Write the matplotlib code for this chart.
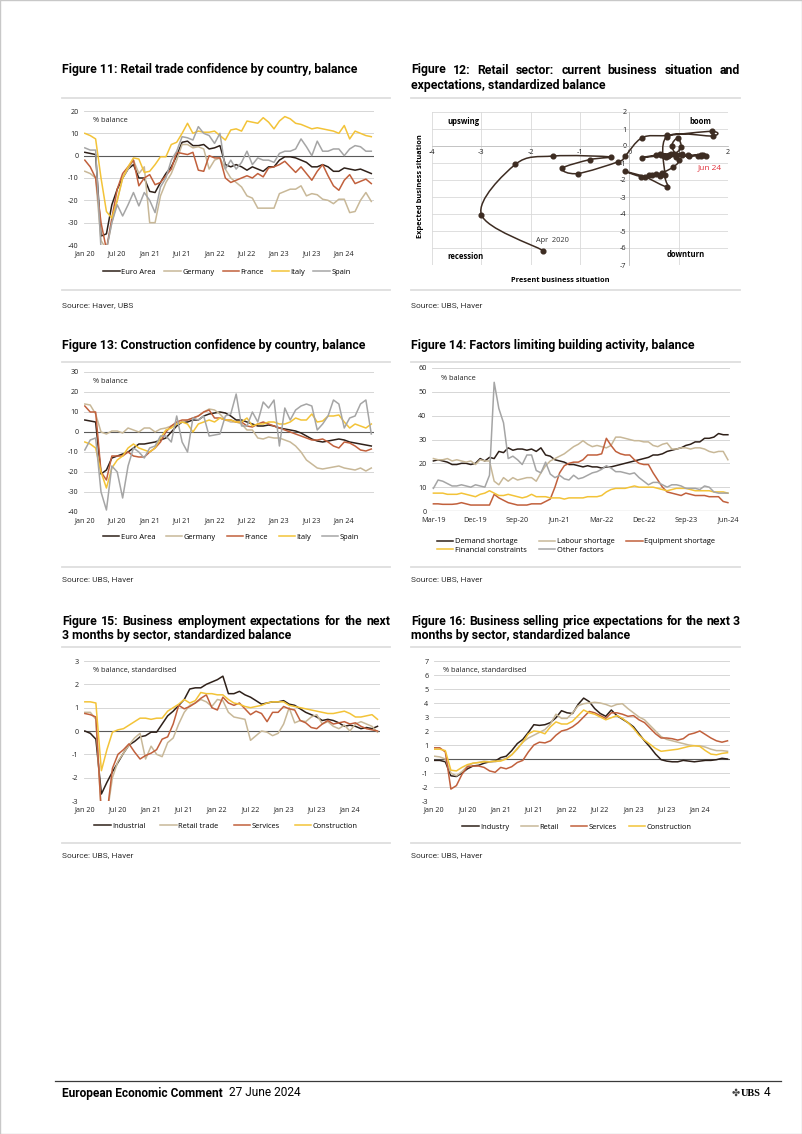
import numpy as np
import matplotlib
matplotlib.use('Agg')
import matplotlib.pyplot as plt
from matplotlib.path import Path
from matplotlib.patches import PathPatch, Rectangle
from matplotlib.lines import Line2D

# ---------------- data ----------------
months_20_24 = ['Jan 20', 'Jul 20', 'Jan 21', 'Jul 21', 'Jan 22', 'Jul 22', 'Jan 23', 'Jul 23', 'Jan 24']
months_19_24 = ['Mar-19', 'Dec-19', 'Sep-20', 'Jun-21', 'Mar-22', 'Dec-22', 'Sep-23', 'Jun-24']

# Figure 11: retail confidence
ea11 = [1.5, 1, 0.5, -36, -35, -22, -15, -10, -6, -4, -10, -10, -16, -16.5, -12, -8, -5, 0, 6, 6.5, 4.5, 4.5, 5, 3, 3.5,
        4.5, -4, -5, -4, -5, -6.5, -5, -6, -7, -5, -5, -2, -0.5, -0.5, -1, -2, -3, -5, -5, -4, -5, -7, -7, -5.5, -6,
        -6.5, -6, -7, -8]
de11 = [-7, -8, -10, -38, -42, -30, -20, -10, -6, -2, -8, -5, -30, -30, -18, -12, -8, -2, 5, 5, 3.5, 4, 3, -6, -2, -1,
        -6, -10, -12, -14, -18, -19, -23.5, -23.5, -23.5, -23.5, -17, -16, -15, -15, -13.5, -18, -17, -17.5, -19.5, -20,
        -21.5, -19.5, -19.5, -25.5, -25, -20, -16.5, -20.5]
fr11 = [-2, -5, -10, -30, -42, -28, -15, -8, -5, -2, -13.5, -10, -8.5, -13, -12, -9, -6, 1.5, 1, 0.5, 1.5, -6.5, -7, 0,
        -1, -1, -10, -12, -11, -10, -9, -10, -8, -9.5, -5.5, -5, -4, -2.5, -5, -7.5, -5, -8, -11, -7, -4, -9, -13.5,
        -15.5, -11, -8.5, -12.5, -11.5, -10.5, -12.5]
it11 = [10, 9, 7.5, -10, -25, -28, -20, -10, -5, -1, -1.5, -7.5, -7, -4, -0.5, -0.5, 5, 6, 10, 14.5, 10, 11, 10.5, 10.5,
        11, 9, 7, 11.5, 12, 11, 15.5, 15, 14.5, 17, 15, 12, 15.5, 17.5, 16.5, 14.5, 14, 13, 12, 12.5, 12, 11.5, 11, 10,
        13.5, 7.5, 11, 10, 9, 8.5]
es11 = [3.5, 2.5, 2.5, -42, -42, -30, -22, -27, -22, -16.5, -22.5, -16.5, -20, -25.5, -14, -10, -2, 2, 8.5, 8, 7, 13,
        10, 9, 5.5, 10, -6, -2, -6, -3, 2, -4, -1, -2, -2, -3, 1, 2, 2, 3, 7.5, 4, 0, 6.5, 2, 2, 3, 3, 0, 3, 4.5, 4, 2, 2]

# Figure 12: retail business cycle clock (Apr 2020 .. Jun 2024)
pres12 = [-1.75, -3.00, -2.31, -1.54, -0.38, -0.80, -1.36, -1.05, -0.22, -0.09, 0.26, 0.76, 1.67, 1.69, 0.76, 0.72,
          0.76, 0.32, -0.09, 0.24, 0.45, 0.55, 0.62, 0.40, 0.66, 0.89, 1.00, 0.86, 0.98, 1.05, 0.90, 0.62, 0.70, 0.80,
          0.26, 0.55, 0.75, 0.85, 1.06, 1.06, 0.65, 0.78, 1.19, 0.95, 1.46, 1.40, 1.56, 0.95, 1.20, 1.50, 1.46]
exp12 = [-6.15, -4.03, -1.08, -0.59, -0.64, -0.80, -1.31, -1.62, -0.92, -0.61, 0.49, 0.62, 0.86, 0.59, 0.55, -1.70,
         -2.39, -1.82, -1.49, -1.80, -1.72, -1.62, -1.74, -1.70, -1.58, -1.23, -0.84, -0.02, 0.47, -0.08, -0.45, -0.45,
         -0.60, -0.52, -0.68, -0.55, -0.62, -0.48, -0.45, -0.55, -0.50, -0.58, -0.55, -0.62, -0.52, -0.60, -0.60,
         -0.55, -0.58, -0.50, -0.58]

# Figure 13: construction confidence
ea13 = [6, 5.5, 5, -21, -19, -13, -12, -11, -10, -8, -6, -6, -5.5, -5, -4, -3, 0, 3, 5, 5, 6, 6, 8, 9, 9.5, 10, 9.5, 8,
        6, 6, 5, 4, 3, 3, 3.5, 3, 2, 1.5, 1, 0.5, -0.5, -2, -3.5, -4.5, -5, -4.5, -4, -3.5, -4, -5, -5.5, -6, -6.5, -7]
de13 = [14, 13.5, 9, 0, -1, 0.5, 0.5, -0.5, 2, 1, 0, 2, 2, 0, 1.5, 2, 3, 4, 5, 6, 7, 8, 10, 11.5, 11, 9, 6, 5, 5, 4, 1,
        1, -3, -3.5, -2.5, -3, -3, -4, -5, -7, -10, -14, -16, -18, -18.5, -18, -17.5, -17, -18, -18.5, -19, -18, -19.5,
        -18]
fr13 = [13, 10, 10, -20, -24, -12, -12, -12, -10, -12, -12.5, -12.5, -10, -8, -5, 0, 3, 5, 6, 6, 7, 8, 10, 11, 7, 7, 6,
        6, 5, 5, 3, 2.5, 4, 5, 4, 3, 2, 1, 0, -1, -2, -3, -4, -4, -3.5, -5, -7, -8, -5, -5.5, -7, -9, -9.5, -8.5]
it13 = [-5, -6, -8, -20, -28, -18, -14, -12, -8, -6, -8, -9, -10, -8, -3, 1, 2, 4, 5, 4, 0, 4, 5, 6, 5, 7, 6, 6, 5, 5,
        7, 3, 4, 4, 5, 5, 4, 4, 5, 7, 6, 6, 9, 5, 5.5, 8, 8, 8.5, 5, 2, 4, 3, 2, 4]
es13 = [-9, -4, -3, -30, -39, -17, -20, -33, -17, -8, -10, -13, -8, -7, -2, -2, -5, 8, -5, -10, 7, 6, 8, -2, -1.5, -1,
        8, 9, 19, 3, 3, 10, 5, 15, 12, 16, -7, 12, 6, 11, 13, 14, 13, 1, 4, 8, 16, 14, 2, 7, 8, 14, 16, -1]

# Figure 14: factors limiting building activity (Mar 2019 .. Jun 2024)
dem14 = [21, 21.5, 21, 20.5, 19.5, 19.5, 20, 20, 19.5, 20, 22, 21, 22.5, 22, 25, 24.5, 26.5, 25.5, 26, 26, 25.5, 26, 25,
         26.5, 23.5, 23, 21.5, 21, 20.5, 19.5, 19.5, 19, 18.5, 19, 18.5, 18.5, 18, 18.5, 18.5, 19, 19.5, 20, 20.5, 21,
         21.5, 22, 22.5, 23.5, 23.5, 24, 25, 25.5, 26, 26.5, 27.5, 28, 29, 29, 30.5, 30.5, 31, 32.5, 32, 32]
lab14 = [22, 21.5, 21.5, 22, 21, 21.5, 21, 20.5, 21, 19.5, 21.5, 21, 21, 12.5, 11, 14, 12.5, 14, 13, 13.5, 14, 14, 12.5,
         16, 19, 21, 22, 23, 24, 25.5, 27, 28, 29.5, 28, 27, 27.5, 27, 26.5, 27.5, 31, 31, 30.5, 30, 29.5, 29.5, 29, 29,
         27.5, 27, 28, 28.5, 26, 26, 26.5, 26.5, 26, 26.5, 26.5, 26, 25, 24.5, 25, 25, 21.5]
equ14 = [3, 3, 2.8, 2.8, 2.8, 3, 3.5, 3, 2.5, 2.5, 2.5, 2.5, 2.5, 7, 5.5, 4.5, 3.5, 3, 2.5, 2.5, 2.5, 3, 3, 3, 4, 5, 10,
         16, 19, 20, 20.5, 20.5, 21.5, 23.5, 23.5, 23.5, 24, 30.5, 27.5, 25, 24, 23.5, 23.5, 21.5, 20, 19.5, 19.5, 16,
         13, 10, 8, 7.5, 7, 6.5, 7.5, 7, 6.5, 6.5, 6.5, 6, 6, 6, 4, 3.5]
fin14 = [7.5, 7.5, 7.5, 7, 7, 7, 7.5, 7, 6.5, 6, 7, 7.5, 8.5, 7.5, 6.5, 6.5, 7, 6.5, 6, 5.5, 6, 7, 6, 6, 6, 5.5, 5.5,
         5.5, 5, 5.5, 5.5, 5.5, 5.5, 6, 6, 6, 6.5, 8, 9, 9.5, 9.5, 9.5, 10, 10.5, 10, 10, 10, 10, 9.5, 9, 8.5, 9, 9.5,
         9.5, 9.5, 9, 8.5, 8.5, 8.5, 8.5, 8, 8, 8, 7.5]
oth14 = [9.5, 13, 12.5, 11.5, 10.5, 10.5, 11, 10.5, 10, 11, 10.5, 10, 15, 54, 43, 37, 22, 23, 21.5, 19.5, 23.5, 23.5,
         17, 16, 20.5, 15.5, 14, 15, 13.5, 13, 15, 13.5, 14, 15, 16, 16.5, 17.5, 19, 18, 16.5, 16.5, 16, 15.5, 16, 14,
         12.5, 11, 12, 12, 11, 10, 11, 11, 10.5, 9.5, 9.5, 9.5, 9, 10.5, 10, 8, 7.5, 7.5, 7.5]

# Figure 15: employment expectations
ind15 = [0, -0.1, -0.35, -2.7, -2.2, -1.75, -1.35, -0.95, -0.6, -0.45, -0.25, -0.2, -0.05, -0.05, 0.3, 0.65, 0.85, 1.1,
         1.35, 1.8, 1.85, 1.85, 2.0, 2.1, 2.2, 2.35, 1.6, 1.6, 1.7, 1.55, 1.45, 1.3, 1.15, 1.2, 1.25, 1.25, 1.3, 1.15,
         1.1, 0.95, 0.8, 0.7, 0.6, 0.45, 0.5, 0.45, 0.35, 0.2, 0.25, 0.2, 0.1, 0.15, 0.1, 0.2]
ret15 = [0.8, 0.8, 0.5, -3.6, -3.6, -2.0, -1.3, -0.95, -0.6, -0.3, -0.1, -1.2, -0.65, -1.0, -1.1, -0.5, -0.3, 0.3, 0.8,
         1.1, 1.2, 1.35, 1.25, 1.05, 1.35, 1.3, 0.8, 0.6, 0.55, 0.5, -0.4, -0.2, 0.0, -0.05, -0.2, -0.1, 0.3, 1.0, 0.35,
         0.45, 0.4, 0.6, 0.7, 0.3, 0.4, 0.2, 0.1, 0.25, 0.0, 0.3, 0.4, 0.3, 0.2, -0.05]
ser15 = [0.75, 0.7, 0.6, -3.6, -3.6, -1.6, -1.0, -0.8, -0.55, -0.9, -1.2, -1.05, -0.95, -0.8, -0.35, -0.25, 0.3, 1.1,
         0.95, 1.05, 1.2, 1.4, 1.55, 1.0, 0.9, 1.45, 1.2, 1.1, 1.2, 0.95, 0.7, 0.85, 0.75, 0.4, 0.8, 0.8, 1.05, 0.95, 0.9,
         0.45, 0.35, 0.15, 0.1, 0.3, 0.45, 0.3, 0.35, 0.4, 0.3, 0.35, 0.2, 0.1, 0.05, 0.0]
con15 = [1.25, 1.25, 1.2, -1.7, -0.8, -0.05, 0.05, 0.1, 0.25, 0.4, 0.55, 0.55, 0.5, 0.55, 0.55, 0.85, 1.0, 1.15, 1.35,
         1.2, 1.3, 1.65, 1.6, 1.6, 1.55, 1.55, 1.35, 1.2, 1.15, 1.05, 1.0, 1.05, 1.1, 1.2, 1.25, 1.25, 1.25, 1.1, 1.05,
         1.0, 0.95, 0.9, 0.85, 0.8, 0.75, 0.75, 0.8, 0.85, 0.75, 0.6, 0.6, 0.65, 0.7, 0.5]

# Figure 16: selling price expectations
ind16 = [-0.1, -0.1, -0.2, -1.2, -1.25, -1.0, -0.7, -0.5, -0.45, -0.3, -0.2, -0.15, 0.1, 0.2, 0.6, 1.1, 1.4, 1.9, 2.45,
         2.4, 2.45, 2.6, 2.95, 3.45, 3.3, 3.25, 3.9, 4.35, 4.1, 3.6, 3.25, 3.05, 3.5, 3.1, 2.85, 2.6, 2.3, 1.8, 1.3,
         0.85, 0.35, -0.05, -0.15, -0.2, -0.2, -0.1, -0.15, -0.2, -0.15, -0.1, -0.1, -0.05, 0.05, 0.0]
ret16 = [0.2, 0.15, 0.0, -1.0, -1.2, -0.9, -0.5, -0.3, -0.25, -0.15, -0.2, -0.2, -0.1, 0.05, 0.3, 0.7, 1.2, 1.5, 1.7,
         1.9, 2.1, 2.5, 3.2, 2.9, 2.9, 3.3, 3.8, 3.95, 4.0, 4.05, 4.0, 3.9, 3.75, 3.9, 3.95, 3.6, 3.3, 3.0, 2.8, 2.4,
         2.0, 1.6, 1.4, 1.3, 1.2, 1.1, 1.0, 0.95, 0.95, 0.85, 0.7, 0.6, 0.6, 0.55]
ser16 = [0.8, 0.8, 0.5, -2.15, -1.9, -1.1, -0.55, -0.5, -0.5, -0.6, -0.85, -0.95, -0.6, -0.7, -0.55, -0.25, -0.1, 0.5,
         1.0, 1.2, 1.15, 1.3, 1.7, 2.0, 2.1, 2.3, 2.6, 3.0, 3.4, 3.3, 3.1, 2.9, 3.3, 3.3, 3.2, 3.05, 3.1, 2.8, 2.6, 2.2,
         1.8, 1.5, 1.5, 1.45, 1.35, 1.45, 1.75, 1.85, 2.0, 1.75, 1.5, 1.3, 1.2, 1.3]
con16 = [0.7, 0.7, 0.6, -0.8, -0.85, -0.6, -0.4, -0.3, -0.25, -0.2, -0.2, -0.15, -0.15, 0.0, 0.3, 0.75, 1.2, 1.8, 2.0,
         1.95, 1.8, 2.3, 2.65, 2.5, 2.5, 2.7, 3.1, 3.5, 3.3, 3.2, 3.0, 2.8, 2.95, 3.1, 2.9, 2.6, 2.2, 1.7, 1.35, 1.05,
         0.75, 0.55, 0.6, 0.65, 0.7, 0.8, 0.9, 0.95, 0.9, 0.6, 0.35, 0.3, 0.4, 0.45]

# ---------------- style ----------------
C_BLACK = '#2e2019'
C_TAN = '#c8b898'
C_RUST = '#c1603c'
C_YEL = '#f3c338'
C_GRAY = '#a5a5a5'
GRID = '#d0d0d0'
ZERO = '#5a5a5a'

TITLE_FONT = ['Roboto', 'DejaVu Sans']
CH_FONT = ['Open Sans', 'DejaVu Sans']
plt.rcParams['font.family'] = CH_FONT

W, H = 802, 1134
fig = plt.figure(figsize=(W / 100, H / 100), dpi=100)
fig.patch.set_facecolor('white')
RND = fig.canvas.get_renderer()


def ax_px(x0, y0, x1, y1):
    return fig.add_axes([x0 / W, 1 - y1 / H, (x1 - x0) / W, (y1 - y0) / H])


def ftext(x, y, s, **kw):
    kw.setdefault('va', 'center')
    return fig.text(x / W, 1 - y / H, s, **kw)


def hline(x0, x1, y, color, lw):
    fig.add_artist(Line2D([x0 / W, x1 / W], [1 - y / H, 1 - y / H], color=color, lw=lw))


def justify(words, x0, x1, y, **kw):
    texts = [ftext(x0, y, w, **kw) for w in words]
    widths = [t.get_window_extent(RND).width for t in texts]
    mingap = 2.6
    need = sum(widths) + mingap * (len(words) - 1)
    if need > (x1 - x0):
        f = (x1 - x0 - mingap * (len(words) - 1)) / sum(widths)
        for t in texts:
            t.set_fontsize(t.get_fontsize() * f)
        widths = [t.get_window_extent(RND).width for t in texts]
    gap = (x1 - x0 - sum(widths)) / (len(words) - 1)
    x = x0
    for t, w in zip(texts, widths):
        t.set_x(x / W)
        x += w + gap


TK = 5.2  # tick label size


def ts_chart(box, series, names, colors, ylim, ystep, xt_pos, xt_lab, note, xlim, zero_dark=True):
    ax = ax_px(*box)
    for s in ax.spines.values():
        s.set_visible(False)
    yt = np.arange(ylim[0], ylim[1] + ystep / 2, ystep)
    for y in yt:
        ax.axhline(y, color=ZERO if (y == 0 and zero_dark) else GRID, lw=0.8 if y == 0 else 0.6, zorder=1)
    handles = []
    for vals, c, nm in zip(series, colors, names):
        h, = ax.plot(np.arange(len(vals)), vals, color=c, lw=1.1, label=nm, zorder=3,
                     solid_joinstyle='round')
        handles.append(h)
    ax.set_ylim(*ylim)
    ax.set_yticks(yt)
    ax.set_yticklabels([f'{v:g}' for v in yt])
    ax.set_xlim(*xlim)
    ax.set_xticks(xt_pos)
    ax.set_xticklabels(xt_lab)
    ax.tick_params(length=0, labelsize=TK, pad=4, colors='#222222')
    ax.text(0.03, 0.93, note, transform=ax.transAxes, fontsize=5.3, va='center', ha='left', color='#222222')
    return ax, handles


def legend(handles, labels, cx, cy, ncol, colsp=2.0):
    fig.legend(handles, labels, loc='center', bbox_to_anchor=(cx / W, 1 - cy / H), ncol=ncol, frameon=False,
               fontsize=5.4, handlelength=2.2, handletextpad=0.2, columnspacing=colsp, borderpad=0,
               labelspacing=0.15)


# ---------------- page texts & rules ----------------
TFS = 8.8
TKW = dict(fontsize=TFS, fontweight='bold', family=TITLE_FONT)
ftext(62, 70, 'Figure 11: Retail trade confidence by country, balance', **TKW)
justify('Figure 12: Retail sector: current business situation and'.split(), 411, 740, 70, **TKW)
ftext(411, 85, 'expectations, standardized balance', **TKW)
ftext(62, 345, 'Figure 13: Construction confidence by country, balance', **TKW)
ftext(411, 345, 'Figure 14: Factors limiting building activity, balance', **TKW)
justify('Figure 15: Business employment expectations for the next'.split(), 62, 390, 621, **TKW)
ftext(62, 636, '3 months by sector, standardized balance', **TKW)
justify('Figure 16: Business selling price expectations for the next 3'.split(), 411, 740, 621, **TKW)
ftext(411, 636, 'months by sector, standardized balance', **TKW)

SEP = '#dedede'
for y in (98, 290, 362, 567, 647, 843):
    hline(62, 390, y, SEP, 1.3)
    hline(411, 740, y, SEP, 1.3)

SKW = dict(fontsize=6.0, family=TITLE_FONT, color='#333333')
ftext(62, 305, 'Source: Haver, UBS', **SKW)
ftext(411, 305, 'Source: UBS, Haver', **SKW)
ftext(62, 579, 'Source: UBS, Haver', **SKW)
ftext(411, 579, 'Source: UBS, Haver', **SKW)
ftext(62, 855, 'Source: UBS, Haver', **SKW)
ftext(411, 855, 'Source: UBS, Haver', **SKW)

hline(55, 781, 1081, '#3a3a3a', 0.9)
t_foot = ftext(62, 1093, 'European Economic Comment', fontsize=8.6, fontweight='bold', family=TITLE_FONT)
wf = t_foot.get_window_extent(RND).width
ftext(62 + wf + 6, 1093, '27 June 2024', fontsize=8.6, family=TITLE_FONT)
ftext(740, 1093, '\u2724', fontsize=7, family=['DejaVu Sans'], color='#444444', ha='right')
ftext(741, 1093, 'UBS', fontsize=7.5, fontweight='bold', family=['Liberation Serif', 'DejaVu Serif'])
ftext(764, 1093, '4', fontsize=8.6, family=TITLE_FONT)

fig.add_artist(Rectangle((0, 0), 1, 1, transform=fig.transFigure, fill=False, edgecolor='#c8c8c8', lw=1.0))

# ---------------- Figure 11 ----------------
n = len(ea11)
ax, hs = ts_chart((84, 111, 374, 245), [ea11, de11, fr11, it11, es11],
                  ['Euro Area', 'Germany', 'France', 'Italy', 'Spain'],
                  [C_BLACK, C_TAN, C_RUST, C_YEL, C_GRAY], (-40, 20), 10,
                  np.arange(0, n, 6), months_20_24, '% balance', (-0.15, n - 0.5))
legend(hs, ['Euro Area', 'Germany', 'France', 'Italy', 'Spain'], 227, 272, 5, colsp=1.1)

# ---------------- Figure 13 ----------------
n = len(ea13)
ax, hs = ts_chart((84, 372, 374, 512), [ea13, de13, fr13, it13, es13],
                  ['Euro Area', 'Germany', 'France', 'Italy', 'Spain'],
                  [C_BLACK, C_TAN, C_RUST, C_YEL, C_GRAY], (-40, 30), 10,
                  np.arange(0, n, 6), months_20_24, '% balance', (-0.15, n - 0.5))
legend(hs, ['Euro Area', 'Germany', 'France', 'Italy', 'Spain'], 231, 537, 5, colsp=1.4)

# ---------------- Figure 14 ----------------
n = len(dem14)
names14 = ['Demand shortage', 'Labour shortage', 'Equipment shortage', 'Financial constraints', 'Other factors']
ax, hs = ts_chart((432, 368, 730, 511), [dem14, lab14, equ14, fin14, oth14], names14,
                  [C_BLACK, C_TAN, C_RUST, C_YEL, C_GRAY], (0, 60), 10,
                  np.arange(0, n, 9), months_19_24, '% balance', (-0.3, n - 0.55))
order = [0, 3, 1, 4, 2]
legend([hs[i] for i in order], [names14[i] for i in order], 576, 546, 3, colsp=1.6)

# ---------------- Figure 15 ----------------
n = len(ind15)
ax, hs = ts_chart((84, 661, 380, 801), [ind15, ret15, ser15, con15],
                  ['Industrial', 'Retail trade', 'Services', 'Construction'],
                  [C_BLACK, C_TAN, C_RUST, C_YEL], (-3, 3), 1,
                  np.arange(0, n, 6), months_20_24, '% balance, standardised', (-0.15, n - 0.55))
legend(hs, ['Industrial', 'Retail trade', 'Services', 'Construction'], 226, 826, 4)

# ---------------- Figure 16 ----------------
n = len(ind16)
ax, hs = ts_chart((434, 661, 730, 801), [ind16, ret16, ser16, con16],
                  ['Industry', 'Retail', 'Services', 'Construction'],
                  [C_BLACK, C_TAN, C_RUST, C_YEL], (-3, 7), 1,
                  np.arange(0, n, 6), months_20_24, '% balance, standardised', (-0.05, n - 0.55))
legend(hs, ['Industry', 'Retail', 'Services', 'Construction'], 577, 827, 4, colsp=1.6)

# ---------------- Figure 12 ----------------
ax = ax_px(432, 112, 728, 265)
ax.set_xlim(-4, 2)
ax.set_ylim(-7, 2)
ax.set_xticks(range(-4, 3))
ax.set_yticks(range(-7, 3))
ax.grid(True, color='#d9d9d9', lw=0.6, zorder=0)
ax.set_axisbelow(True)
for s in ('top', 'right'):
    ax.spines[s].set_visible(False)
ax.spines['left'].set_position(('data', 0))
ax.spines['bottom'].set_position(('data', 0))
for s in ('left', 'bottom'):
    ax.spines[s].set_color('#bfbfbf')
    ax.spines[s].set_linewidth(0.6)
ax.tick_params(length=0, labelsize=TK, pad=2, colors='#222222')
ax.set_xticklabels([str(v) for v in range(-4, 3)])
ax.set_yticklabels([str(v) for v in range(-7, 3)])

# smooth (Catmull-Rom) path through the observed points, computed in screen-like space
sx, sy = 296 / 6.0, 153 / 9.0
P = np.column_stack([np.array(pres12) * sx, np.array(exp12) * sy])
Pe = np.vstack([P[0], P, P[-1]])
verts = [P[0]]
codes = [Path.MOVETO]
for i in range(1, len(Pe) - 2):
    p0, p1, p2, p3 = Pe[i - 1], Pe[i], Pe[i + 1], Pe[i + 2]
    c1 = p1 + (p2 - p0) / 6.0
    c2 = p2 - (p3 - p1) / 6.0
    verts += [c1, c2, p2]
    codes += [Path.CURVE4] * 3
verts = np.array(verts) / np.array([sx, sy])
ax.add_patch(PathPatch(Path(verts, codes), fill=False, edgecolor='#3d2c22', lw=1.1, zorder=3))
ax.plot(pres12, exp12, 'o', color='#3d2c22', ms=3.4, zorder=4)

ax.text(-3.37, 1.45, 'upswing', fontsize=5.5, fontweight='bold', ha='center', va='center')
ax.text(1.43, 1.45, 'boom', fontsize=5.5, fontweight='bold', ha='center', va='center')
ax.text(-3.33, -6.5, 'recession', fontsize=5.5, fontweight='bold', ha='center', va='center')
ax.text(1.15, -6.4, 'downturn', fontsize=5.5, fontweight='bold', ha='center', va='center')
ax.text(-1.55, -5.55, 'Apr  2020', fontsize=5.3, ha='center', va='center', color='#333333')
ax.text(1.64, -1.3, 'Jun 24', fontsize=6, ha='center', va='center', color='#e0303a')
ftext(420, 186, 'Expected business situation', fontsize=5.3, fontweight='bold', rotation=90, ha='center')
ftext(560, 280, 'Present business situation', fontsize=5.3, fontweight='bold', ha='center')

fig.savefig('out.png', dpi=100, facecolor='white')
